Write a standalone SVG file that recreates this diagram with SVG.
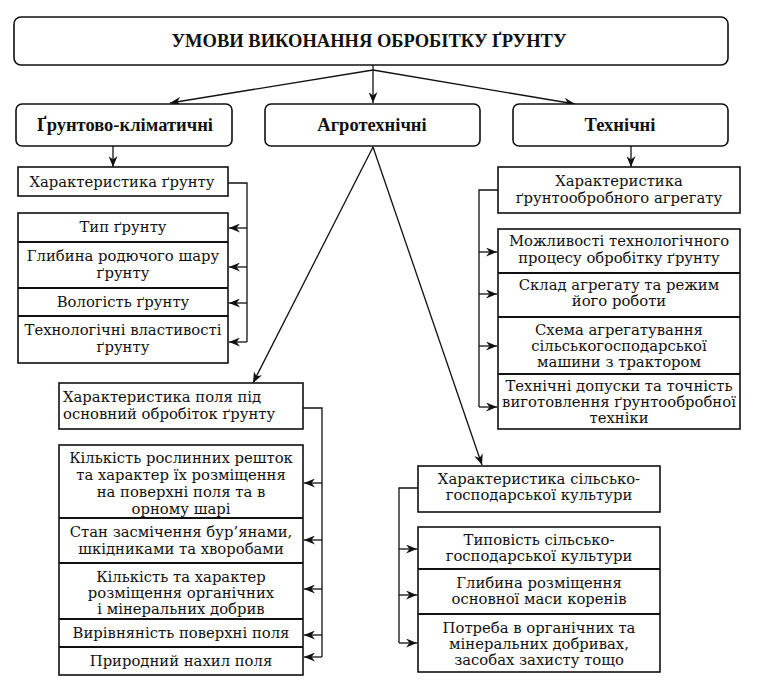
<svg xmlns="http://www.w3.org/2000/svg" width="767" height="692" viewBox="0 0 767 692">
<defs>
<marker id="ah" markerUnits="userSpaceOnUse" markerWidth="12" markerHeight="9" refX="11" refY="4.5" orient="auto">
<path d="M0,0 L11,4.5 L0,9 L3.5,4.5 z" fill="#111"/>
</marker>
<style>
rect{fill:#fff;stroke:#111;stroke-width:1.6}
.div{stroke:#111;stroke-width:2.2}
.h{font-family:"Liberation Serif","DejaVu Serif",serif;font-weight:bold;font-size:18.5px;fill:#111;text-anchor:middle}
.t{font-family:"DejaVu Serif","Liberation Serif",serif;font-size:14.8px;fill:#111;text-anchor:middle}
.l{text-anchor:start}
.c{fill:none;stroke:#111;stroke-width:1.3}
</style>
</defs>
<rect x="0" y="0" width="767" height="692" style="stroke:none"/>

<g id="connectors">
<path class="c" d="M373,65 V70 M373,70 L170,103" marker-end="url(#ah)"/>
<path class="c" d="M373,70 V103" marker-end="url(#ah)"/>
<path class="c" d="M373,70 L575,104" marker-end="url(#ah)"/>
<path class="c" d="M113,146 V167" marker-end="url(#ah)"/>
<path class="c" d="M631,146 V167" marker-end="url(#ah)"/>
<path class="c" d="M373,147 L253,383" marker-end="url(#ah)"/>
<path class="c" d="M373,147 L482,465" marker-end="url(#ah)"/>
<path class="c" d="M228,183 H247 V342"/>
<path class="c" d="M247,228 H229" marker-end="url(#ah)"/>
<path class="c" d="M247,267 H229" marker-end="url(#ah)"/>
<path class="c" d="M247,303 H229" marker-end="url(#ah)"/>
<path class="c" d="M247,342 H229" marker-end="url(#ah)"/>
<path class="c" d="M498,190 H479 V407"/>
<path class="c" d="M479,252 H497" marker-end="url(#ah)"/>
<path class="c" d="M479,294 H497" marker-end="url(#ah)"/>
<path class="c" d="M479,346 H497" marker-end="url(#ah)"/>
<path class="c" d="M479,407 H497" marker-end="url(#ah)"/>
<path class="c" d="M303,408 H322 V657"/>
<path class="c" d="M322,483 H304" marker-end="url(#ah)"/>
<path class="c" d="M322,540 H304" marker-end="url(#ah)"/>
<path class="c" d="M322,589 H304" marker-end="url(#ah)"/>
<path class="c" d="M322,635 H304" marker-end="url(#ah)"/>
<path class="c" d="M322,657 H304" marker-end="url(#ah)"/>
<path class="c" d="M418,488 H399 V643"/>
<path class="c" d="M399,549 H417" marker-end="url(#ah)"/>
<path class="c" d="M399,595 H417" marker-end="url(#ah)"/>
<path class="c" d="M399,643 H417" marker-end="url(#ah)"/>
</g>

<g id="root">
<rect x="14" y="17" width="714" height="48" rx="7"/>
<text class="h" x="369" y="47">УМОВИ ВИКОНАННЯ ОБРОБІТКУ ҐРУНТУ</text>
</g>
<g id="soil-climate">
<rect x="16" y="104" width="216" height="42" rx="6"/>
<text class="h" x="125" y="131">Ґрунтово-кліматичні</text>
</g>
<g id="agrotech">
<rect x="265" y="104" width="215" height="42" rx="6"/>
<text class="h" x="372" y="131">Агротехнічні</text>
</g>
<g id="technical">
<rect x="513" y="104" width="215" height="42" rx="6"/>
<text class="h" x="620" y="131">Технічні</text>
</g>

<g id="soil-char">
<rect x="18" y="167" width="210" height="29"/>
<text class="t" x="122" y="187">Характеристика ґрунту</text>
</g>
<g id="soil-list">
<rect x="18" y="213" width="210" height="150"/>
<line class="div" x1="18" y1="242" x2="228" y2="242"/>
<line class="div" x1="18" y1="288" x2="228" y2="288"/>
<line class="div" x1="18" y1="316" x2="228" y2="316"/>
<text class="t" x="123" y="232">Тип ґрунту</text>
<text class="t" x="123" y="261">Глибина родючого шару</text>
<text class="t" x="123" y="278">ґрунту</text>
<text class="t" x="123" y="307">Вологість ґрунту</text>
<text class="t" x="123" y="335">Технологічні властивості</text>
<text class="t" x="123" y="352">ґрунту</text>
</g>

<g id="aggregate-char">
<rect x="498" y="167" width="242" height="46"/>
<text class="t" x="619" y="186">Характеристика</text>
<text class="t" x="619" y="203">ґрунтообробного агрегату</text>
</g>
<g id="aggregate-list">
<rect x="498" y="229" width="242" height="200"/>
<line class="div" x1="498" y1="273" x2="740" y2="273"/>
<line class="div" x1="498" y1="317" x2="740" y2="317"/>
<line class="div" x1="498" y1="374" x2="740" y2="374"/>
<text class="t" x="619" y="246">Можливості технологічного</text>
<text class="t" x="619" y="263">процесу обробітку ґрунту</text>
<text class="t" x="619" y="290">Склад агрегату та режим</text>
<text class="t" x="619" y="306">його роботи</text>
<text class="t" x="619" y="335">Схема агрегатування</text>
<text class="t" x="619" y="351">сільськогосподарської</text>
<text class="t" x="619" y="367">машини з трактором</text>
<text class="t" x="619" y="391">Технічні допуски та точність</text>
<text class="t" x="619" y="407">виготовлення ґрунтообробної</text>
<text class="t" x="619" y="423">техніки</text>
</g>

<g id="field-char">
<rect x="59" y="383" width="244" height="46"/>
<text class="t l" x="63" y="402">Характеристика поля під</text>
<text class="t l" x="63" y="419">основний обробіток ґрунту</text>
</g>
<g id="field-list">
<rect x="59" y="445" width="244" height="230"/>
<line class="div" x1="59" y1="518" x2="303" y2="518"/>
<line class="div" x1="59" y1="563" x2="303" y2="563"/>
<line class="div" x1="59" y1="619" x2="303" y2="619"/>
<line class="div" x1="59" y1="647" x2="303" y2="647"/>
<text class="t" x="181" y="463">Кількість рослинних решток</text>
<text class="t" x="181" y="480">та характер їх розміщення</text>
<text class="t" x="181" y="497">на поверхні поля та в</text>
<text class="t" x="181" y="514">орному шарі</text>
<text class="t" x="181" y="537">Стан засмічення бур’янами,</text>
<text class="t" x="181" y="554">шкідниками та хворобами</text>
<text class="t" x="181" y="582">Кількість та характер</text>
<text class="t" x="181" y="598">розміщення органічних</text>
<text class="t" x="181" y="614">і мінеральних добрив</text>
<text class="t" x="181" y="638">Вирівняність поверхні поля</text>
<text class="t" x="181" y="666">Природний нахил поля</text>
</g>

<g id="crop-char">
<rect x="418" y="466" width="242" height="46"/>
<text class="t" x="539" y="484">Характеристика сільсько-</text>
<text class="t" x="539" y="500">господарської культури</text>
</g>
<g id="crop-list">
<rect x="418" y="527" width="242" height="145"/>
<line class="div" x1="418" y1="569" x2="660" y2="569"/>
<line class="div" x1="418" y1="614" x2="660" y2="614"/>
<text class="t" x="539" y="545">Типовість сільсько-</text>
<text class="t" x="539" y="561">господарської культури</text>
<text class="t" x="539" y="588">Глибина розміщення</text>
<text class="t" x="539" y="604">основної маси коренів</text>
<text class="t" x="539" y="633">Потреба в органічних та</text>
<text class="t" x="539" y="649">мінеральних добривах,</text>
<text class="t" x="539" y="665">засобах захисту тощо</text>
</g>
</svg>
